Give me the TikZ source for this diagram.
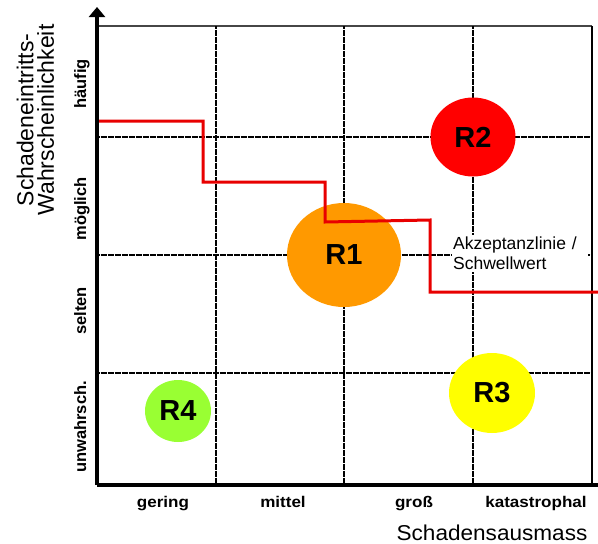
\documentclass[tikz,border=0pt]{standalone}
\usepackage{fontspec}
\setmainfont{Liberation Sans}
\usetikzlibrary{arrows.meta,shapes.geometric}

\definecolor{riskred}{RGB}{255,0,0}
\definecolor{riskorange}{RGB}{255,153,0}
\definecolor{riskyellow}{RGB}{255,255,0}
\definecolor{riskgreen}{RGB}{153,255,51}
\definecolor{limitred}{RGB}{232,0,0}
\definecolor{framegray}{RGB}{70,70,70}

\tikzset{
  axisline/.style={line width=3.4pt},
  gridline/.style={line width=2pt, dash pattern=on 3pt off 0.5pt},
  frameline/.style={line width=1.2pt, framegray},
  riskblob/.style={ellipse, inner sep=0pt, font=\fontsize{29}{31}\selectfont\bfseries},
  rowlabel/.style={rotate=90, anchor=base, font=\fontsize{16.5}{18}\selectfont\bfseries},
  collabel/.style={anchor=base, xscale=1.1, transform shape, font=\fontsize{15.5}{17}\selectfont\bfseries},
  limitline/.style={line width=3pt, limitred, line join=miter},
}

\begin{document}
\begin{tikzpicture}[x=1pt, y=-1pt]
\useasboundingbox (0,0) rectangle (598,544);

% corner points of the matrix
\coordinate (origin) at (97,485);
\coordinate (ytip) at (97,7);
\coordinate (xend) at (598,485);
\coordinate (tl) at (97,26);
\coordinate (tr) at (592,26);
\coordinate (br) at (592,485);

% frame
\draw[frameline] (tl) -- (tr);
\draw[line width=1.4pt] (tr) -- (br);

% dotted grid
\foreach \gy in {137,255,373}
  \draw[gridline] (97,\gy) -- (592,\gy);
\foreach \gx in {216,344,473}
  \draw[gridline] (\gx,26) -- (\gx,485);

% risks
\node[riskblob, fill=riskred, minimum width=85pt, minimum height=79pt] (r2) at (473,137) {R2};
\node[riskblob, fill=riskorange, minimum width=114pt, minimum height=104pt] (r1) at (344,255) {R1};
\node[riskblob, fill=riskyellow, minimum width=86pt, minimum height=80pt] (r3) at (492,393) {R3};
\node[riskblob, fill=riskgreen, minimum width=66pt, minimum height=62pt] (r4) at (178,411) {R4};

% acceptance threshold label
\node[anchor=north west, fill=white, inner xsep=1pt, inner ysep=2pt, text width=134pt, align=left,
      font=\fontsize{17.5}{20}\selectfont] (limit) at (452,235)
  {Akzeptanzlinie /\\Schwellwert};

% acceptance line
\draw[limitline] (97,121) -- (203,121) -- (203,182) -- (325,182) -- (325,222)
  -- (430,220) -- (430,292) -- (598,292);

% axes
\draw[axisline] (origin) -- (xend);
\draw[axisline, -{Triangle[width=16pt,length=10pt]}] (origin) -- (ytip);

% probability classes
\node[rowlabel] (p4) at (86,84) {häufig};
\node[rowlabel] (p3) at (86,209) {möglich};
\node[rowlabel] (p2) at (86,311) {selten};
\node[rowlabel] (p1) at (86,427) {unwahrsch.};

% impact classes
\node[collabel] (c1) at (163,507) {gering};
\node[collabel] (c2) at (283,507) {mittel};
\node[collabel] (c3) at (414,507) {groß};
\node[collabel] (c4) at (536,507) {katastrophal};

% axis titles
\node[rotate=90, align=center, font=\fontsize{23}{20.5}\selectfont] (ytitle) at (35.5,120)
  {Schadeneintritts-\\Wahrscheinlichkeit};
\node[anchor=base, xscale=1.05, transform shape, font=\fontsize{21.5}{24}\selectfont] (xtitle) at (492,540)
  {Schadensausmass};
\end{tikzpicture}
\end{document}
